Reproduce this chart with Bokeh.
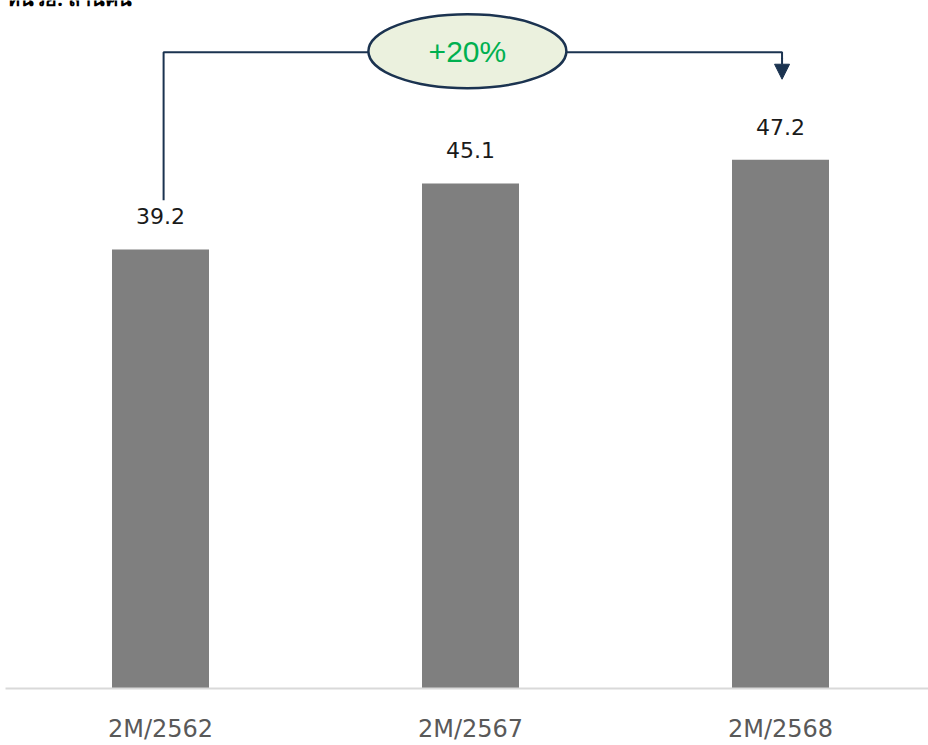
from bokeh.plotting import figure
from bokeh.models import Range1d, FixedTicker, ColumnDataSource, Arrow, NormalHead
from bokeh.core.properties import value
from bokeh.embed import file_html
from bokeh.resources import INLINE

categories = ["2M/2562", "2M/2567", "2M/2568"]
values = [39.2, 45.1, 47.2]
labels = ["39.2", "45.1", "47.2"]
growth_label = "+20%"
unit_label = "หน่วย: ล้านคน"

xs = [i + 0.5 for i in range(len(categories))]
src = ColumnDataSource(dict(x=xs, top=values, lab=labels))

p = figure(width=928, height=745, output_backend="svg", toolbar_location=None,
           x_range=Range1d(0, 923 / 310), y_range=Range1d(0, 688 / 11.2),
           min_border_left=5, min_border_right=0, min_border_top=0, min_border_bottom=57,
           background_fill_color="white", border_fill_color="white")
p.outline_line_color = None
p.xgrid.visible = False
p.ygrid.visible = False
p.yaxis.visible = False

p.vbar(x="x", top="top", width=97 / 310, bottom=0, source=src,
       fill_color="#7f7f7f", line_color=None)

p.text(x="x", y="top", text="lab", source=src, y_offset=-33,
       text_align="center", text_baseline="middle",
       text_font=value("DejaVu Sans"), text_font_size="22px", text_color="#1a1a1a")

# growth bracket
navy = "#1b3350"
top_y = 56.8
x_left = xs[0] + 0.01
x_right = xs[-1] + 0.005
mid_x = (xs[0] + xs[-1]) / 2 - 0.01
p.line(x=[x_left, x_left, x_right, x_right], y=[values[0] + 4.4, top_y, top_y, top_y - 0.6],
       line_color=navy, line_width=2)
p.add_layout(Arrow(end=NormalHead(size=15, fill_color=navy, line_color=navy),
                   x_start=x_right, y_start=top_y - 0.5, x_end=x_right, y_end=top_y - 2.4,
                   line_color=navy, line_width=2))
p.ellipse(x=[mid_x], y=[top_y + 0.1], width=198, height=74, width_units="screen",
          height_units="screen", fill_color="#ebf1de", line_color=navy, line_width=2.5)
p.text(x=[mid_x], y=[top_y + 0.1], text=[growth_label], text_align="center",
       text_baseline="middle", text_font=value("Liberation Sans"),
       text_font_size="30px", text_color="#00b050")

p.text(x=[0.006], y=[(688 + 2) / 11.2], text=[unit_label], text_align="left",
       text_baseline="alphabetic", text_font=value("Noto Sans"),
       text_font_size="20px", text_color="black", text_font_style="bold")

ax = p.xaxis[0]
ax.ticker = FixedTicker(ticks=xs)
ax.major_label_overrides = {x: c for x, c in zip(xs, categories)}
ax.axis_line_color = "#d9d9d9"
ax.axis_line_width = 2
ax.major_tick_line_color = None
ax.minor_tick_line_color = None
ax.major_tick_out = 0
ax.major_tick_in = 0
ax.major_label_standoff = 26
ax.major_label_text_line_height = 1.0
ax.major_label_text_font = "DejaVu Sans"
ax.major_label_text_font_size = "24px"
ax.major_label_text_color = "#595959"

open("out.html", "w").write(file_html(p, INLINE))
